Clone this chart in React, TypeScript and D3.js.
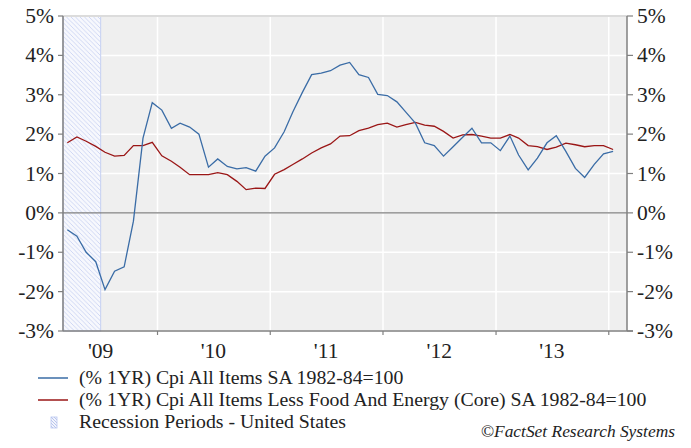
import * as d3 from 'd3';

// monthly, Mar 2009 .. Jan 2014
const START_MONTH = new Date(2009, 2, 15);

const headlineCpi = [
    -0.43, -0.59, -1.0, -1.24, -1.95, -1.48, -1.37, -0.21, 1.9, 2.8,
    2.61, 2.15, 2.28, 2.18, 2.0, 1.16, 1.37, 1.18, 1.12, 1.15, 1.06, 1.44,
    1.65, 2.06, 2.56, 3.06, 3.51, 3.55, 3.61, 3.75, 3.82, 3.51, 3.44, 3.01,
    2.98, 2.82, 2.56, 2.28, 1.78, 1.71, 1.44, 1.68, 1.92, 2.15, 1.78, 1.78,
    1.58, 1.95, 1.47, 1.09, 1.39, 1.78, 1.96, 1.56, 1.13, 0.9, 1.23, 1.5,
    1.56,
];

const coreCpi = [
    1.78, 1.93, 1.82, 1.69, 1.54, 1.44, 1.46, 1.71, 1.71, 1.79,
    1.45, 1.31, 1.16, 0.97, 0.97, 0.97, 1.02, 0.97, 0.8, 0.59, 0.63, 0.62,
    0.98, 1.1, 1.23, 1.37, 1.52, 1.65, 1.75, 1.95, 1.96, 2.09, 2.15, 2.24,
    2.28, 2.18, 2.24, 2.3, 2.23, 2.2, 2.07, 1.9, 1.98, 1.99, 1.95, 1.9,
    1.9, 1.99, 1.9, 1.71, 1.68, 1.61, 1.67, 1.77, 1.73, 1.68, 1.71, 1.71,
    1.61,
];

const recession = [new Date(2009, 2, 1), new Date(2009, 6, 1)];
const yearLabels = ["'09", "'10", "'11", "'12", "'13"];
const yearStarts = [2010, 2011, 2012, 2013, 2014];
const yTicks = [5, 4, 3, 2, 1, 0, -1, -2, -3];

const legendItems = [
    { label: '(% 1YR) Cpi All Items SA 1982-84=100', color: '#3a6ca6', kind: 'line' },
    { label: '(% 1YR) Cpi All Items Less Food And Energy (Core) SA 1982-84=100', color: '#9a1616', kind: 'line' },
    { label: 'Recession Periods - United States', color: '#a9b9ea', kind: 'hatch' },
];

const W = 691;
const H = 448;
const margin = { left: 63, right: 64, top: 16, bottom: 117 };
const FONT = 'Liberation Serif';

const monthDate = (i: number) => d3.timeMonth.offset(START_MONTH, i);

export default function App() {
    const x = d3
        .scaleTime()
        .domain([new Date(2009, 2, 1), new Date(2014, 2, 1)])
        .range([margin.left, W - margin.right]);
    const y = d3.scaleLinear().domain([-3, 5]).range([H - margin.bottom, margin.top]);

    const line = d3
        .line<number>()
        .x((_, i) => x(monthDate(i)))
        .y((v) => y(v));

    const x0 = margin.left;
    const x1 = W - margin.right;
    const yTop = margin.top;
    const yBot = H - margin.bottom;

    return (
        <div style={{ position: 'absolute', left: 0, top: 0 }}>
            <svg width={W} height={H} style={{ display: 'block' }}>
                <defs>
                    <pattern id="hatch" patternUnits="userSpaceOnUse" width="4.5" height="4.5">
                        <rect width="4.5" height="4.5" fill="#f7f8fd" />
                        <path d="M0,0 L4.5,4.5 M-1,3.5 L1,5.5 M3.5,-1 L5.5,1" stroke="#c2cdf0" strokeWidth="0.75" />
                    </pattern>
                    <pattern id="hatchSmall" patternUnits="userSpaceOnUse" width="3" height="3">
                        <rect width="3" height="3" fill="#f3f5fc" />
                        <path d="M0,0 L3,3 M-1,2 L1,4 M2,-1 L4,1" stroke="#a9b9ea" strokeWidth="0.8" />
                    </pattern>
                </defs>

                <rect x={x0} y={yTop} width={x1 - x0} height={yBot - yTop} fill="#efefef" />

                {/* vertical gridlines at year starts */}
                {yearStarts.map((yr) => (
                    <line key={yr} x1={x(new Date(yr, 0, 1))} x2={x(new Date(yr, 0, 1))} y1={yTop} y2={yBot} stroke="#fff" strokeWidth={1.5} />
                ))}
                {yTicks.map((t) => (
                    <line key={t} x1={x0} x2={x1} y1={y(t)} y2={y(t)} stroke="#fff" strokeWidth={1.5} />
                ))}

                {/* recession shading */}
                <rect
                    x={x(recession[0])}
                    y={yTop}
                    width={x(recession[1]) - x(recession[0])}
                    height={yBot - yTop}
                    fill="url(#hatch)"
                    stroke="#c5d0f2"
                    strokeWidth={1}
                />

                <line x1={x0} x2={x1} y1={yTop} y2={yTop} stroke="#dcdcdc" strokeWidth={2} />
                <line x1={x0} x2={x1} y1={y(0)} y2={y(0)} stroke="#7f7f7f" strokeWidth={1.2} />

                <path d={line(coreCpi) ?? ''} fill="none" stroke="#9a1616" strokeWidth={1.3} />
                <path d={line(headlineCpi) ?? ''} fill="none" stroke="#3a6ca6" strokeWidth={1.3} />

                {/* axes */}
                <line x1={x0} x2={x0} y1={yTop} y2={yBot} stroke="#808080" strokeWidth={1.5} />
                <line x1={x1} x2={x1} y1={yTop} y2={yBot} stroke="#808080" strokeWidth={1.5} />
                <line x1={x0} x2={x1 + 6} y1={yBot} y2={yBot} stroke="#808080" strokeWidth={1.5} />
                {yTicks.map((t) => (
                    <g key={t}>
                        <line x1={x0 - 5} x2={x0} y1={y(t)} y2={y(t)} stroke="#808080" strokeWidth={1.2} />
                        <line x1={x1} x2={x1 + 6} y1={y(t)} y2={y(t)} stroke="#808080" strokeWidth={1.2} />
                        <text x={x0 - 9} y={y(t) + 7} textAnchor="end" fontSize={21.5} fontFamily={FONT} fill="#222">
                            {`${t}%`}
                        </text>
                        <text x={x1 + 10} y={y(t) + 7} textAnchor="start" fontSize={21.5} fontFamily={FONT} fill="#222">
                            {`${t}%`}
                        </text>
                    </g>
                ))}
                {yearStarts.map((yr) => (
                    <line key={yr} x1={x(new Date(yr, 0, 1))} x2={x(new Date(yr, 0, 1))} y1={yBot} y2={yBot + 4} stroke="#808080" strokeWidth={1.2} />
                ))}
                {yearLabels.map((lab, i) => (
                    <text key={lab} x={x(new Date(2009 + i, 6, 1))} y={yBot + 27} textAnchor="middle" fontSize={21.5} fontFamily={FONT} fill="#222">
                        {lab}
                    </text>
                ))}

                {/* legend */}
                {legendItems.map((item, i) => {
                    const ly = 378 + i * 22;
                    return (
                        <g key={item.label}>
                            {item.kind === 'line' ? (
                                <line x1={38} x2={68} y1={ly} y2={ly} stroke={item.color} strokeWidth={1.5} />
                            ) : (
                                <rect x={51} y={ly - 5} width={6} height={11} fill="url(#hatchSmall)" stroke="#b8c6ef" strokeWidth={0.8} />
                            )}
                            <text x={79} y={ly + 6} fontSize={19.8} fontFamily={FONT} fill="#222">
                                {item.label}
                            </text>
                        </g>
                    );
                })}

                <text x={675} y={437} textAnchor="end" fontSize={17.4} fontStyle="italic" fontFamily={FONT} fill="#222">
                    ©FactSet Research Systems
                </text>
            </svg>
        </div>
    );
}
